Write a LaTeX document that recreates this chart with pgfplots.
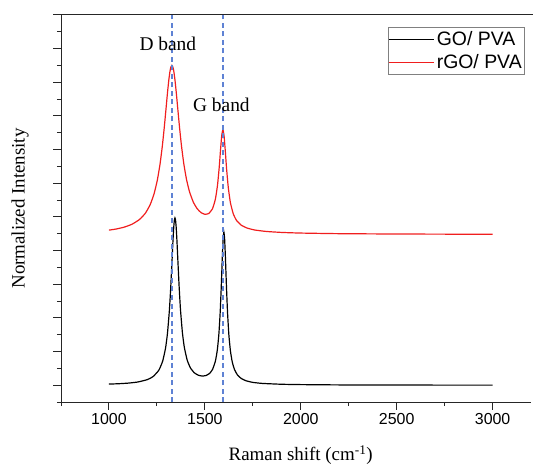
\documentclass[border=0pt]{standalone}
\usepackage{fontspec}
\setmainfont{Liberation Serif}
\setsansfont{Liberation Sans}
\usepackage{pgfplots}
\usepackage{pgfplotstable}
\pgfplotsset{compat=1.18}

\definecolor{bandblue}{RGB}{95,130,212}
\definecolor{specred}{RGB}{240,30,30}

% GO/PVA spectrum (normalised)
\pgfplotstableread{
x y
1000 0.032
1050 0.043
1100 0.061
1150 0.094
1200 0.165
1230 0.256
1260 0.445
1280 0.715
1295 1.103
1305 1.540
1315 2.224
1322 2.903
1328 3.609
1334 4.331
1338 4.719
1341 4.905
1344 4.970
1347 4.908
1350 4.723
1354 4.335
1360 3.614
1366 2.910
1373 2.232
1383 1.554
1393 1.121
1408 0.741
1425 0.510
1445 0.368
1465 0.298
1485 0.272
1505 0.285
1525 0.351
1540 0.469
1555 0.719
1565 1.053
1573 1.521
1580 2.188
1586 3.014
1591 3.813
1595 4.341
1599 4.551
1603 4.337
1607 3.806
1612 3.003
1618 2.173
1625 1.500
1633 1.025
1643 0.682
1655 0.456
1670 0.303
1690 0.197
1715 0.130
1750 0.083
1800 0.052
1900 0.027
2000 0.017
2200 0.008
2500 0.003
2800 0.002
3000 0.001
}\goData

% rGO/PVA spectrum (normalised, offset)
\pgfplotstableread{
x y
1000 4.607
1040 4.643
1080 4.697
1120 4.782
1160 4.926
1190 5.112
1215 5.366
1235 5.684
1252 6.089
1266 6.560
1278 7.095
1288 7.639
1297 8.188
1305 8.682
1312 9.068
1318 9.324
1323 9.457
1328 9.504
1333 9.459
1338 9.328
1344 9.074
1351 8.690
1359 8.199
1368 7.654
1378 7.114
1390 6.585
1404 6.120
1420 5.746
1440 5.436
1460 5.243
1480 5.128
1500 5.078
1520 5.101
1540 5.247
1555 5.534
1566 5.949
1575 6.493
1582 7.025
1588 7.430
1594 7.594
1600 7.414
1606 6.993
1613 6.442
1622 5.873
1633 5.426
1648 5.092
1665 4.896
1690 4.753
1720 4.669
1760 4.611
1820 4.568
1900 4.539
2000 4.520
2200 4.502
2500 4.492
2800 4.487
3000 4.485
}\rgoData

% band positions
\pgfplotstableread{
x y
1328 -0.5
1328 11
}\dBand
\pgfplotstableread{
x y
1595 -0.5
1595 11
}\gBand

\begin{document}
\begin{tikzpicture}
\begin{axis}[
  scale only axis,
  width=470bp, height=387bp,
  xmin=750, xmax=3200,
  ymin=-0.5, ymax=11,
  axis x line*=bottom,
  axis y line*=left,
  axis line style={line width=1pt, black!85},
  tick align=outside,
  tick style={line width=1pt, black!85},
  major tick length=7.5bp,
  minor tick length=4bp,
  xtick={1000,1500,2000,2500,3000},
  minor xtick={750,1250,1750,2250,2750},
  ytick={0,1,...,11},
  minor ytick={-0.5,0.5,1.5,...,10.5},
  yticklabels={},
  x tick label style={font=\fontsize{16}{18}\selectfont\sffamily},
  /pgf/number format/assume math mode=true,
  /pgf/number format/set thousands separator={},
  xlabel={Raman shift (cm\textsuperscript{-1})},
  ylabel={Normalized Intensity},
  label style={font=\fontsize{19}{22}\selectfont},
  x label style={at={(axis description cs:0.51,-0.137)}, anchor=center},
  y label style={at={(axis description cs:-0.087,0.5)}, anchor=center},
  legend style={
    at={(axis description cs:0.987,0.969)}, anchor=north east,
    draw=black!50,
    font=\fontsize{19.5}{22}\selectfont\sffamily,
    inner xsep=1pt, inner ysep=2pt,
    row sep=4pt,
    legend cell align=left,
  },
  legend image code/.code={\draw[#1, line width=0.9pt] (0bp,0bp) -- (45bp,0bp);},
  clip=false,
]
\addplot[draw=black, line width=1.2pt, smooth, tension=0.3] table[x=x,y=y]{\goData};
\addlegendentry{GO/ PVA}
\addplot[draw=specred, line width=1.2pt, smooth, tension=0.3] table[x=x,y=y]{\rgoData};
\addlegendentry{rGO/ PVA}

\addplot[draw=bandblue, line width=1.3pt, dash pattern=on 5bp off 3.5bp, forget plot] table[x=x,y=y]{\dBand};
\addplot[draw=bandblue, line width=1.3pt, dash pattern=on 5bp off 3.5bp, forget plot] table[x=x,y=y]{\gBand};

\node[font=\fontsize{19.5}{22}\selectfont, anchor=center] at (axis cs:1307,10.15) {D band};
\node[font=\fontsize{19.5}{22}\selectfont, anchor=center] at (axis cs:1586,8.32) {G band};
\end{axis}
\draw[line width=1pt, black!85] (current axis.north west) -- ([xshift=2bp]current axis.north east);
\pgfresetboundingbox
\path ([shift={(-61bp,-63bp)}]current axis.south west) rectangle ([shift={(2bp,15bp)}]current axis.north east);
\end{tikzpicture}
\end{document}
